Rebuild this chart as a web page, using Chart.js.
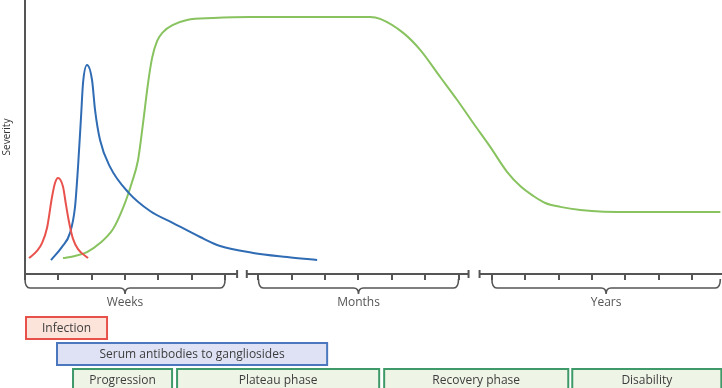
<!DOCTYPE html>
<html>
<head>
<meta charset="utf-8">
<script src="https://cdn.jsdelivr.net/npm/chart.js@4"></script>
<style>
  html, body { margin: 0; padding: 0; background: #fff; }
</style>
</head>
<body>
<canvas id="myChart" width="722" height="388"></canvas>
<script>
// time axis is in tick units: 0-6 weeks, 7-13 months, 14-20 years
const xTicks = [0, 1, 2, 3, 4, 5, 6, 7, 8, 9, 10, 11, 12, 13, 14, 15, 16, 17, 18, 19, 20];
const axisBreaks = [[6.36, 6.65], [13.3, 13.63]];
const periodLabels = ['Weeks', 'Months', 'Years'];
const periodFrom = [0, 7, 14];
const periodTo = [6, 13, 20.85];

// severity curves
const infectionX = [0.12, 0.36, 0.51, 0.66, 0.81, 0.90, 0.99, 1.14, 1.23, 1.32, 1.44, 1.59, 1.89];
const infectionY = [5.8, 8.4, 11.3, 16.8, 28.1, 33.2, 35.0, 31.8, 25.2, 19.0, 12.8, 9.1, 5.8];

const antibodyX = [0.78, 1.11, 1.35, 1.50, 1.59, 1.68, 1.74, 1.86, 2.01, 2.10, 2.25, 2.55, 3.09, 3.75, 4.44, 5.25, 5.85, 6.84, 7.86, 8.76];
const antibodyY = [5.1, 9.9, 15.0, 24.5, 39.1, 57.3, 69.7, 76.3, 70.8, 59.9, 48.9, 39.1, 29.9, 23.0, 18.6, 13.5, 10.2, 7.7, 6.2, 5.1];

const weaknessX = [1.14, 1.50, 1.86, 2.25, 2.64, 2.94, 3.21, 3.39, 3.54, 3.69, 3.81, 3.96, 4.14, 4.44, 4.86, 5.64, 6.75, 9.45, 10.35, 10.65, 11.34, 11.85, 12.45, 12.96, 13.44, 13.95, 14.46, 14.85, 15.24, 15.60, 16.05, 16.65, 18.15, 20.85];
const weaknessY = [5.8, 6.6, 8.0, 11.3, 16.4, 24.1, 33.6, 41.6, 55.1, 69.7, 78.8, 85.0, 88.3, 90.9, 92.7, 93.4, 93.8, 93.8, 93.8, 93.1, 88.0, 81.8, 71.9, 63.5, 55.1, 46.4, 37.2, 32.1, 28.5, 25.9, 24.5, 23.4, 22.6, 22.6];

// bars under the axis
const phaseLabels = ['Infection', 'Serum antibodies to gangliosides', 'Progression', 'Plateau phase', 'Recovery phase', 'Disability'];
const phaseKind = ['infection', 'antibody', 'clinical', 'clinical', 'clinical', 'clinical'];
const phaseStart = [0.03, 0.96, 1.44, 4.56, 10.77, 16.41];
const phaseEnd = [2.46, 9.06, 4.41, 10.62, 16.29, 20.88];

const FONT = '"Open Sans", "DejaVu Sans", sans-serif';
const AXIS = '#555';

const boxStyle = {
  infection: { top: 317, h: 22, fill: '#fde4db', stroke: '#e8514a' },
  antibody: { top: 343, h: 22, fill: '#dfe2f4', stroke: '#4a77bd' },
  clinical: { top: 369, h: 24, fill: '#eef4e6', stroke: '#3f9a6a' }
};

function pts(xs, ys) {
  return xs.map((x, i) => ({ x: x, y: ys[i] }));
}

function drawBrace(ctx, x1, x2, y0, y1, y2) {
  const cx = (x1 + x2) / 2;
  const r = 5;
  ctx.beginPath();
  ctx.moveTo(x1, y0);
  ctx.quadraticCurveTo(x1, y1, x1 + r, y1);
  ctx.lineTo(cx - r, y1);
  ctx.quadraticCurveTo(cx, y1, cx, y2);
  ctx.quadraticCurveTo(cx, y1, cx + r, y1);
  ctx.lineTo(x2 - r, y1);
  ctx.quadraticCurveTo(x2, y1, x2, y0);
  ctx.stroke();
}

const decorations = {
  id: 'decorations',
  afterDraw(chart) {
    const ctx = chart.ctx;
    const xs = chart.scales.x;
    const base = chart.chartArea.bottom;
    const px = v => xs.getPixelForValue(v);

    ctx.save();
    ctx.strokeStyle = AXIS;
    ctx.lineWidth = 2;

    // broken x axis
    const segs = [];
    let from = xs.min;
    axisBreaks.forEach(b => { segs.push([from, b[0]]); from = b[1]; });
    segs.push([from, xs.max]);
    segs.forEach(s => {
      ctx.beginPath();
      ctx.moveTo(px(s[0]), base);
      ctx.lineTo(px(s[1]), base);
      ctx.stroke();
    });
    axisBreaks.forEach(b => {
      b.forEach(v => {
        ctx.beginPath();
        ctx.moveTo(px(v), base - 4);
        ctx.lineTo(px(v), base + 4);
        ctx.stroke();
      });
    });

    // braces and period names
    ctx.lineWidth = 1.6;
    ctx.fillStyle = '#555';
    ctx.font = '12px ' + FONT;
    ctx.textAlign = 'center';
    ctx.textBaseline = 'middle';
    periodLabels.forEach((lab, i) => {
      const a = px(periodFrom[i]), b = px(periodTo[i]);
      drawBrace(ctx, a, b, base + 5, base + 14, base + 20);
      ctx.fillText(lab, (a + b) / 2, base + 29);
    });

    // phase boxes
    ctx.lineWidth = 2;
    phaseLabels.forEach((lab, i) => {
      const st = boxStyle[phaseKind[i]];
      const a = px(phaseStart[i]), b = px(phaseEnd[i]);
      ctx.fillStyle = st.fill;
      ctx.fillRect(a, st.top, b - a, st.h);
      ctx.strokeStyle = st.stroke;
      ctx.strokeRect(a, st.top, b - a, st.h);
      ctx.fillStyle = '#3d3d3d';
      ctx.fillText(lab, (a + b) / 2, st.top + 11.5);
    });
    ctx.restore();
  }
};

const lineStyle = {
  borderWidth: 2,
  pointRadius: 0,
  fill: false,
  cubicInterpolationMode: 'monotone'
};

new Chart(document.getElementById('myChart').getContext('2d'), {
  type: 'line',
  data: {
    datasets: [
      Object.assign({ label: 'Infection', data: pts(infectionX, infectionY), borderColor: '#e9524c' }, lineStyle),
      Object.assign({ label: 'Serum antibodies', data: pts(antibodyX, antibodyY), borderColor: '#2f6cb4' }, lineStyle),
      Object.assign({ label: 'Severity', data: pts(weaknessX, weaknessY), borderColor: '#88c35f' }, lineStyle)
    ]
  },
  options: {
    responsive: false,
    animation: false,
    layout: { padding: { top: 0, right: 0, left: 0, bottom: 108 } },
    plugins: { legend: { display: false }, tooltip: { enabled: false } },
    scales: {
      x: {
        type: 'linear',
        min: 0,
        max: 20.9,
        afterBuildTicks: axis => { axis.ticks = xTicks.map(v => ({ value: v })); },
        grid: { drawOnChartArea: false, drawTicks: true, tickLength: 6, color: AXIS, lineWidth: 2 },
        border: { display: false },
        ticks: { display: false }
      },
      y: {
        min: 0,
        max: 100,
        grid: { display: false, drawTicks: false },
        border: { display: true, color: AXIS, width: 2 },
        ticks: { display: false },
        title: {
          display: true,
          text: 'Severity',
          color: '#333',
          font: { family: FONT, size: 10 },
          padding: { top: 1, bottom: 12 }
        }
      }
    }
  },
  plugins: [decorations]
});
</script>
</body>
</html>
